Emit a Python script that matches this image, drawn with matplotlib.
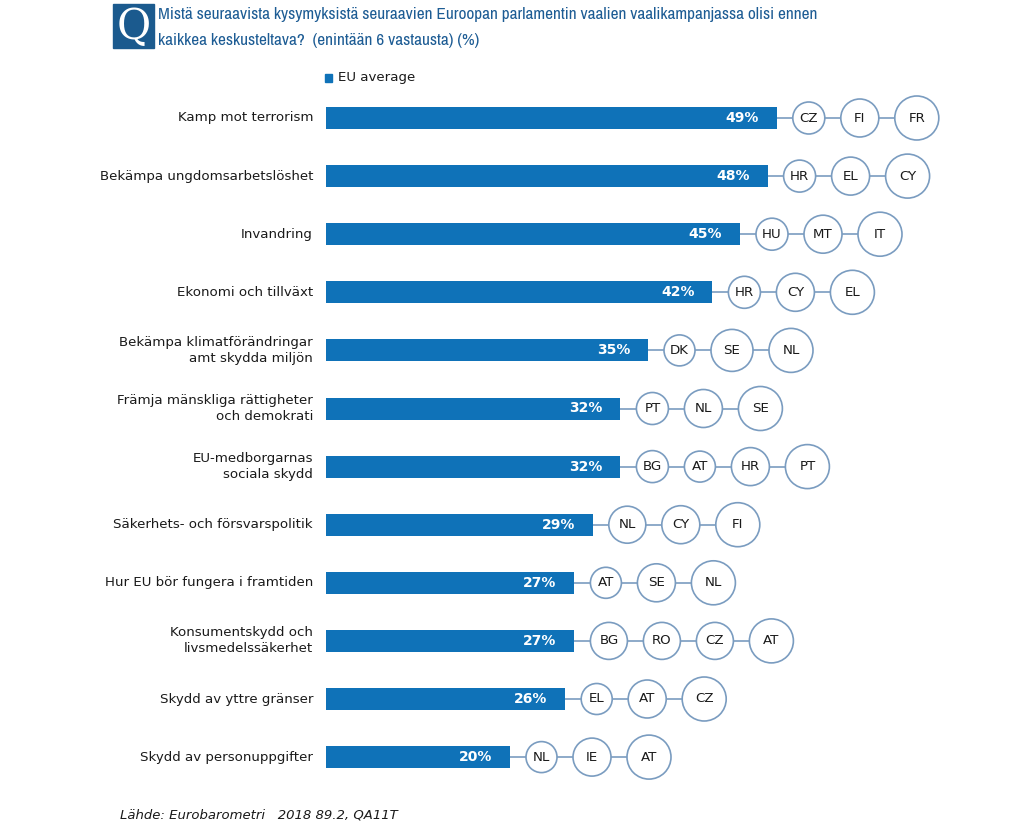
import matplotlib.pyplot as plt
from matplotlib import font_manager
from matplotlib.patches import Rectangle

# data
topics = [
    "Kamp mot terrorism",
    "Bekämpa ungdomsarbetslöshet",
    "Invandring",
    "Ekonomi och tillväxt",
    "Bekämpa klimatförändringar\namt skydda miljön",
    "Främja mänskliga rättigheter\noch demokrati",
    "EU-medborgarnas\nsociala skydd",
    "Säkerhets- och försvarspolitik",
    "Hur EU bör fungera i framtiden",
    "Konsumentskydd och\nlivsmedelssäkerhet",
    "Skydd av yttre gränser",
    "Skydd av personuppgifter",
]
eu_avg = [49, 48, 45, 42, 35, 32, 32, 29, 27, 27, 26, 20]
countries = [
    ["CZ", "FI", "FR"],
    ["HR", "EL", "CY"],
    ["HU", "MT", "IT"],
    ["HR", "CY", "EL"],
    ["DK", "SE", "NL"],
    ["PT", "NL", "SE"],
    ["BG", "AT", "HR", "PT"],
    ["NL", "CY", "FI"],
    ["AT", "SE", "NL"],
    ["BG", "RO", "CZ", "AT"],
    ["EL", "AT", "CZ"],
    ["NL", "IE", "AT"],
]
title1 = ("Mistä seuraavista kysymyksistä seuraavien Euroopan parlamentin "
          "vaalien vaalikampanjassa olisi ennen")
title2 = "kaikkea keskusteltava?  (enintään 6 vastausta) (%)"

# circle radii in pixels (style)
radii = [
    [16, 19, 22], [16, 19, 22], [16, 19, 22], [16, 19, 22],
    [15.5, 21, 22], [16, 19, 22], [16, 15.5, 19, 22], [18.5, 19, 22],
    [15.5, 19, 22], [18.5, 18.5, 18.5, 22], [15.5, 19, 22], [15.5, 19, 22],
]

BAR = "#0f72b8"
TITLE = "#1d5c94"
RING = "#7a9cc0"
INK = "#1a1a1a"
W, H = 1024, 832
X0 = 326          # pixel of 0 %
PX = 9.2          # pixels per percent
Y0, DY = 118, 58.1

# a narrow face for the title if one is installed
narrow = [f.name for f in font_manager.fontManager.ttflist
          if "Narrow" in f.name or "Condensed" in f.name]
tfont = ([narrow[0]] if narrow else []) + ["Liberation Sans", "DejaVu Sans"]

fig = plt.figure(figsize=(W / 100, H / 100), dpi=100)
ax = fig.add_axes([0, 0, 1, 1])
ax.set_xlim(-X0 / PX, (W - X0) / PX)
ax.set_ylim((H - Y0) / DY, -Y0 / DY)
ax.axis("off")

rows = list(range(len(topics)))
ax.barh(rows, eu_avg, height=22 / DY, color=BAR, zorder=2)

for i, (lab, v) in enumerate(zip(topics, eu_avg)):
    ax.text(-13 / PX, i, lab, ha="right", va="center", fontsize=9.6,
            color=INK, linespacing=1.3)
    ax.text(v - 18 / PX, i, f"{v}%", ha="right", va="center", fontsize=10,
            color="white", fontweight="bold", zorder=3)
    # chain of country circles
    px = X0 + v * PX
    xs = []
    for r in radii[i]:
        px += 16 + r
        xs.append((px - X0) / PX)
        px += r
    ax.plot([v, xs[-1]], [i, i], color=RING, lw=1.2, zorder=1)
    sizes = [(2 * r * 0.72) ** 2 for r in radii[i]]
    ax.scatter(xs, [i] * len(xs), s=sizes, facecolor="white", edgecolor=RING,
               linewidth=1.2, zorder=4)
    for x, c in zip(xs, countries[i]):
        ax.text(x, i, c, ha="center", va="center", fontsize=9.6,
                color=INK, zorder=5)

# title with Q box
fig.patches.append(Rectangle((113 / W, 1 - 48 / H), 41 / W, 44 / H,
                             transform=fig.transFigure, color="#1b5a8e"))
fig.text(133.5 / W, 1 - 27 / H, "Q", ha="center", va="center", color="white",
         fontsize=30, family="DejaVu Serif")
t1 = fig.text(158 / W, 1 - 14 / H, title1, ha="left", va="center",
              fontsize=14, color=TITLE, family=tfont, fontweight="bold")
t2 = fig.text(158 / W, 1 - 40 / H, title2, ha="left", va="center",
              fontsize=14, color=TITLE, family=tfont, fontweight="bold")
# fit the first title line to its width in the reference
r = fig.canvas.get_renderer()
wd = t1.get_window_extent(r).width
fs = 14 * min(1.0, 657 / wd)
t1.set_fontsize(fs)
t2.set_fontsize(fs)

# legend
fig.patches.append(Rectangle((325 / W, 1 - 82 / H), 7 / W, 8 / H,
                             transform=fig.transFigure, color=BAR))
fig.text(338 / W, 1 - 78 / H, "EU average", ha="left", va="center",
         fontsize=9.6, color=INK)

fig.text(120 / W, 1 - 815 / H, "Lähde: Eurobarometri   2018 89.2, QA11T",
         ha="left", va="center", fontsize=9.5, style="italic", color=INK)

fig.savefig("out.png", dpi=100)
